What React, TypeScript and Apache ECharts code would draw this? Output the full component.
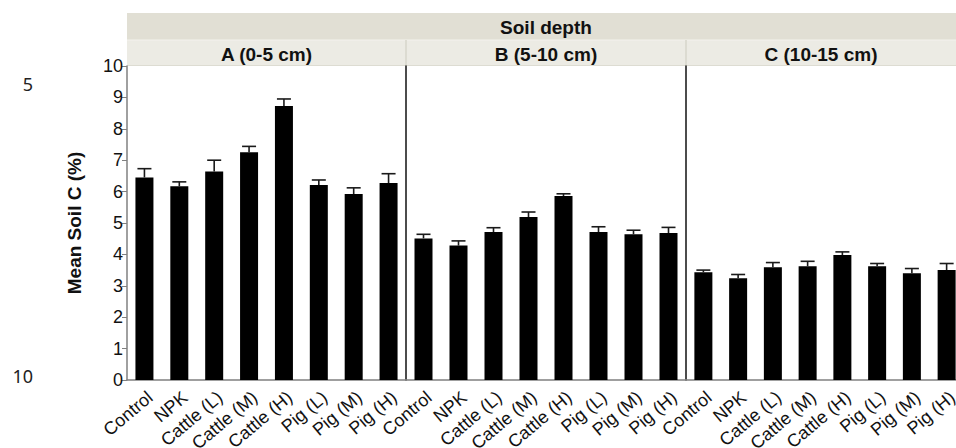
import React, { useEffect, useRef } from "react";
import * as echarts from "echarts";

const categories = ["Control", "NPK", "Cattle (L)", "Cattle (M)", "Cattle (H)", "Pig (L)", "Pig (M)", "Pig (H)"];
const panelTitles = ["A (0-5 cm)", "B (5-10 cm)", "C (10-15 cm)"];
const meanA = [6.45, 6.17, 6.64, 7.25, 8.73, 6.21, 5.92, 6.27];
const errA = [0.28, 0.14, 0.36, 0.19, 0.22, 0.16, 0.2, 0.3];
const meanB = [4.51, 4.28, 4.71, 5.19, 5.86, 4.71, 4.64, 4.68];
const errB = [0.13, 0.15, 0.14, 0.16, 0.07, 0.17, 0.13, 0.18];
const meanC = [3.43, 3.24, 3.59, 3.62, 3.98, 3.62, 3.4, 3.5];
const errC = [0.07, 0.12, 0.15, 0.16, 0.1, 0.09, 0.15, 0.21];
const yTicks = [0, 1, 2, 3, 4, 5, 6, 7, 8, 9, 10];

const FONT = "'Liberation Sans', Arial, Helvetica, sans-serif";

export default function App() {
  const ref = useRef<HTMLDivElement>(null);
  useEffect(() => {
    if (!ref.current) return;
    const chart = echarts.init(ref.current, null, { renderer: "svg" });
    const means = [meanA, meanB, meanC];
    const errs = [errA, errB, errC];
    const grids = [
      { left: 127, top: 66, width: 279, height: 314 },
      { left: 406, top: 66, width: 280, height: 314 },
      { left: 686, top: 66, width: 278, height: 314 },
    ];
    const series: any[] = [];
    means.forEach((m, i) => {
      series.push({
        type: "bar",
        xAxisIndex: i,
        yAxisIndex: i,
        data: m,
        barWidth: 18,
        itemStyle: { color: "#000" },
        z: 2,
      });
      series.push({
        type: "custom",
        xAxisIndex: i,
        yAxisIndex: i,
        z: 3,
        data: m.map((v, j) => [j, v, v + errs[i][j]]),
        renderItem: (params: any, api: any) => {
          const base = api.coord([api.value(0), api.value(1)]);
          const top = api.coord([api.value(0), api.value(2)]);
          const st = { stroke: "#1a1a1a", lineWidth: 1.6 };
          return {
            type: "group",
            children: [
              { type: "line", shape: { x1: base[0], y1: base[1], x2: base[0], y2: top[1] }, style: st },
              { type: "line", shape: { x1: base[0] - 7, y1: top[1], x2: base[0] + 7, y2: top[1] }, style: st },
            ],
          };
        },
      });
    });
    const yAxes = grids.map((g, i) => ({
      type: "value",
      gridIndex: i,
      min: yTicks[0],
      max: yTicks[yTicks.length - 1],
      interval: 1,
      name: i === 0 ? "Mean Soil C (%)" : "",
      nameLocation: "middle",
      nameGap: 43,
      nameTextStyle: { fontFamily: FONT, fontSize: 19, fontWeight: "bold", color: "#111" },
      axisLine: { show: true, lineStyle: { color: i === 0 ? "#808080" : "#111", width: 1.5 } },
      axisTick: { show: i === 0, length: 5, lineStyle: { color: "#808080", width: 1 } },
      axisLabel: { show: i === 0, fontFamily: FONT, fontSize: 18, color: "#111", margin: 4 },
      splitLine: { show: false },
    }));
    const xAxes = grids.map((g, i) => ({
      type: "category",
      gridIndex: i,
      data: categories,
      axisLine: { show: true, lineStyle: { color: "#808080", width: 1.5 } },
      axisTick: { show: false },
      axisLabel: {
        interval: 0,
        rotate: 40,
        fontFamily: FONT,
        fontSize: 18,
        color: "#111",
        margin: 8,
        align: "right",
        verticalAlign: "top",
      },
    }));
    const bandLeft = 127;
    const bandW = 840;
    const graphic: any[] = [
      { type: "rect", shape: { x: bandLeft, y: 13, width: bandW, height: 27 }, style: { fill: "#e1dfd4" }, z: -1 },
      { type: "rect", shape: { x: bandLeft, y: 40, width: bandW, height: 26 }, style: { fill: "#ecebe4" }, z: -1 },
      { type: "line", shape: { x1: bandLeft, y1: 40, x2: bandLeft + bandW, y2: 40 }, style: { stroke: "#f3f2ed", lineWidth: 1 } },
      { type: "line", shape: { x1: bandLeft, y1: 65.5, x2: bandLeft + bandW, y2: 65.5 }, style: { stroke: "#dddcd2", lineWidth: 1 } },
      { type: "line", shape: { x1: 406, y1: 40, x2: 406, y2: 66 }, style: { stroke: "#dcdbd1", lineWidth: 2 } },
      { type: "line", shape: { x1: 686, y1: 40, x2: 686, y2: 66 }, style: { stroke: "#dcdbd1", lineWidth: 2 } },
      {
        type: "text",
        style: { text: "Soil depth", x: 546, y: 27, fill: "#111", font: `bold 19px ${FONT}`, align: "center", verticalAlign: "middle", textAlign: "center", textVerticalAlign: "middle" },
      },
      {
        type: "text",
        style: { text: "5", x: 33, y: 84, fill: "#222", font: `18px 'Noto Sans', 'Open Sans', sans-serif`, align: "right", verticalAlign: "middle", textAlign: "right", textVerticalAlign: "middle" },
      },
      {
        type: "text",
        style: { text: "10", x: 33, y: 376, fill: "#222", font: `18px 'Noto Sans', 'Open Sans', sans-serif`, align: "right", verticalAlign: "middle", textAlign: "right", textVerticalAlign: "middle" },
      },
    ];
    panelTitles.forEach((t, i) => {
      const g = grids[i];
      graphic.push({
        type: "text",
        style: { text: t, x: g.left + g.width / 2 - (i === 2 ? 4 : 0), y: 54, fill: "#111", font: `bold 19px ${FONT}`, align: "center", verticalAlign: "middle", textAlign: "center", textVerticalAlign: "middle" },
      });
    });
    chart.setOption({
      animation: false,
      backgroundColor: "#fff",
      grid: grids.map((g) => ({ ...g, containLabel: false, outerBoundsMode: "none" })),
      xAxis: xAxes,
      yAxis: yAxes,
      series,
      graphic,
    });
    return () => chart.dispose();
  }, []);
  return (
    <div style={{ position: "absolute", left: 0, top: 0, width: 956, height: 448, overflow: "hidden", background: "#fff" }}>
      <div ref={ref} style={{ width: 972, height: 448 }} />
    </div>
  );
}
